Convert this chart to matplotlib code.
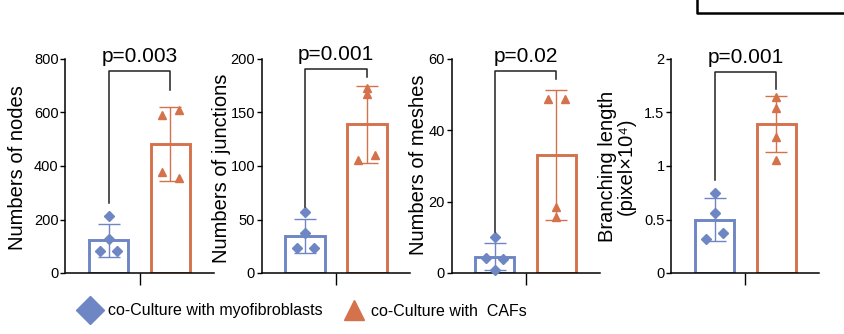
import matplotlib
matplotlib.use("Agg")
import matplotlib.pyplot as plt
from matplotlib.lines import Line2D
import numpy as np

plt.rcParams['font.family'] = ['Liberation Sans', 'DejaVu Sans']

# ---------------- data ----------------
groups = ["co-Culture with myofibroblasts", "co-Culture with  CAFs"]

ylabels = ["Numbers of nodes", "Numbers of junctions", "Numbers of meshes",
           "Branching length\n(pixel×10⁴)"]
pvalues = ["p=0.003", "p=0.001", "p=0.02", "p=0.001"]

ymax = [800, 200, 60, 2]
yticks = [[0, 200, 400, 600, 800], [0, 50, 100, 150, 200], [0, 20, 40, 60],
          [0, 0.5, 1, 1.5, 2]]
yticklabels = [["0", "200", "400", "600", "800"], ["0", "50", "100", "150", "200"],
               ["0", "20", "40", "60"], ["0", "0.5", "1", "1.5", "2"]]

# means and SD of each group (myofibroblasts, CAFs)
nodes_mean = [122, 482]
nodes_sd = [61, 137]
junctions_mean = [34.7, 139]
junctions_sd = [15.6, 36]
meshes_mean = [4.6, 33]
meshes_sd = [3.8, 18.2]
length_mean = [0.50, 1.39]
length_sd = [0.20, 0.26]

# individual points
nodes_myo = [212, 128, 82, 82]
nodes_caf = [590, 611, 376, 354]
junctions_myo = [57, 37, 23.8, 23.8]
junctions_caf = [173, 167, 105.5, 110]
meshes_myo = [10.0, 4.2, 3.8, 0.8]
meshes_caf = [48.8, 48.8, 18.6, 15.6]
length_myo = [0.75, 0.56, 0.37, 0.32]
length_caf = [1.645, 1.54, 1.27, 1.06]

# horizontal jitter of the points (in bar-width units)
jit_nodes_myo = [0, 0, -1, 1]
jit_nodes_caf = [-1, 1, -1, 1]
jit_junctions_myo = [0, 0, -1, 1]
jit_junctions_caf = [0, 0, -1, 1]
jit_meshes_myo = [0, -1, 1, 0]
jit_meshes_caf = [-1, 1, 0, 0]
jit_length_myo = [0, 0, 1, -1]
jit_length_caf = [0, 0, 0, 0]

# bracket: top level, left leg end, right leg end
brackets = [(755, 263, 684), (190.6, 62, 183), (56.6, 11.5, 54.4), (1.88, 0.87, 1.72)]

means = [nodes_mean, junctions_mean, meshes_mean, length_mean]
sds = [nodes_sd, junctions_sd, meshes_sd, length_sd]
pts = [(nodes_myo, nodes_caf), (junctions_myo, junctions_caf),
       (meshes_myo, meshes_caf), (length_myo, length_caf)]
jits = [(jit_nodes_myo, jit_nodes_caf), (jit_junctions_myo, jit_junctions_caf),
        (jit_meshes_myo, jit_meshes_caf), (jit_length_myo, jit_length_caf)]

# ---------------- style ----------------
BLUE = '#6F86C4'
ORANGE = '#D4724C'
colors = [BLUE, ORANGE]
markers = ['D', '^']

W, H = 845, 334
fig = plt.figure(figsize=(W / 100, H / 100), dpi=100)

ax_left = [65.5, 262, 451.6, 671.5]
ax_top, ax_bot = 59, 273
ax_w = 148
label_x = [18, 222, 418.5, 617]
label_y = [167.5, 168, 164.5, 166.5]

for i in range(4):
    ax = fig.add_axes([ax_left[i] / W, (H - ax_bot) / H, ax_w / W, (ax_bot - ax_top) / H])
    ax.set_xlim(-0.7, 1.7)
    ax.set_ylim(0, ymax[i])
    for j in range(2):
        ax.bar(j, means[i][j], width=0.64, facecolor='white', edgecolor=colors[j],
               linewidth=2.1, zorder=2)
        ax.errorbar(j, means[i][j], yerr=sds[i][j], color=colors[j], elinewidth=1.0,
                    capsize=8, capthick=1.0, zorder=3, fmt='none')
        xs = j + 0.14 * np.array(jits[i][j])
        ax.plot(xs, pts[i][j], linestyle='none', marker=markers[j], color=colors[j],
                markersize=5.5 if j == 0 else 6, zorder=4, clip_on=False)
    # bracket
    top, l_end, r_end = brackets[i]
    ax.plot([0, 0, 1, 1], [l_end, top, top, r_end], color='#222222', lw=1.1,
            clip_on=False, zorder=5)
    ax.annotate(pvalues[i], xy=(0.5, top), xytext=(0, 3.5), textcoords='offset points',
                ha='center', va='bottom', fontsize=15, annotation_clip=False)
    for s in ['top', 'right']:
        ax.spines[s].set_visible(False)
    for s in ['left', 'bottom']:
        ax.spines[s].set_linewidth(1.1)
    ax.set_yticks(yticks[i])
    ax.set_yticklabels(yticklabels[i], fontsize=10.5)
    ax.tick_params(axis='y', length=3.5, width=1.0, pad=1.5)
    ax.set_xticks([0.5])
    ax.set_xticklabels([''])
    ax.tick_params(axis='x', length=8.5, width=1.0)
    fig.text(label_x[i] / W, 1 - label_y[i] / H, ylabels[i], rotation=90, ha='center',
             va='center', fontsize=14.5, linespacing=1.0)

# legend
handles = [Line2D([], [], linestyle='none', marker=markers[k], color=colors[k],
                  markersize=14 if k == 0 else 15) for k in range(2)]
fig.legend(handles, groups, loc='center left', bbox_to_anchor=(82.4 / W, 1 - 311 / H),
           ncol=2, frameon=False, fontsize=11.5, borderpad=0, borderaxespad=0,
           handlelength=1.0, handletextpad=0.6, columnspacing=1.45)

# stray frame corner at the top right (part of the original layout)
fig.add_artist(Line2D([697 / W, 697 / W, 1.0], [1.0, 1 - 13 / H, 1 - 13 / H],
                      color='black', lw=1.8, transform=fig.transFigure))

fig.savefig('out.png', dpi=100)
